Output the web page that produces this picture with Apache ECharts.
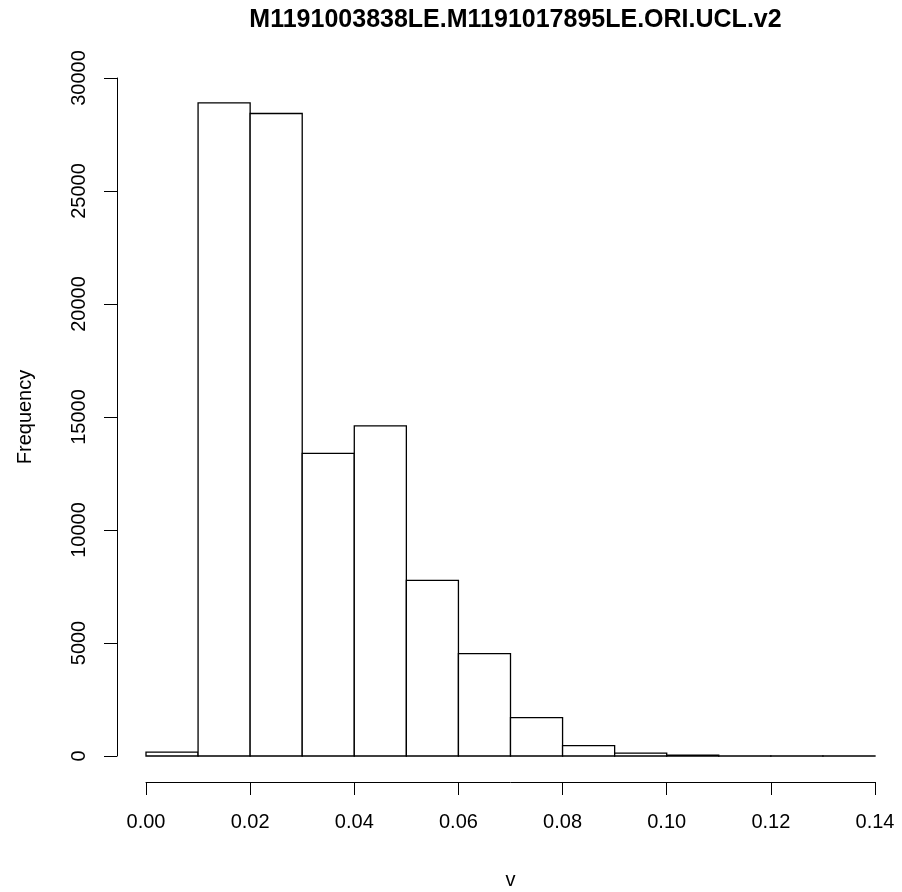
<!DOCTYPE html>
<html>
<head>
<meta charset="utf-8">
<script src="https://cdn.jsdelivr.net/npm/echarts@6/dist/echarts.min.js"></script>
<style>
    html, body { margin: 0; padding: 0; background: #ffffff; }
    #main { width: 902px; height: 892px; }
</style>
</head>
<body>
<div id="main"></div>
<script>
// histogram bins (left / right edges) and their counts
var binStart = [0.00, 0.01, 0.02, 0.03, 0.04, 0.05, 0.06, 0.07, 0.08, 0.09, 0.10, 0.11, 0.12, 0.13];
var binEnd = [0.01, 0.02, 0.03, 0.04, 0.05, 0.06, 0.07, 0.08, 0.09, 0.10, 0.11, 0.12, 0.13, 0.14];
var counts = [170, 28900, 28430, 13390, 14610, 7770, 4530, 1700, 455, 125, 40, 8, 3, 1];
var xTicks = [0.00, 0.02, 0.04, 0.06, 0.08, 0.10, 0.12, 0.14];
var yTicks = [0, 5000, 10000, 15000, 20000, 25000, 30000];

var font = "'Liberation Sans', Arial, Helvetica, sans-serif";

var datas = [];
for (var i = 0; i < counts.length; i++) {
    datas.push([binStart[i], binEnd[i], counts[i]]);
}

var chart = echarts.init(document.getElementById("main"));

var option = {
    backgroundColor: "#ffffff",
    animation: false,
    title: {
        text: "M1191003838LE.M1191017895LE.ORI.UCL.v2",
        left: 510.5,
        textAlign: "center",
        top: 3,
        textStyle: {
            fontFamily: font,
            fontSize: 25,
            fontWeight: "bold",
            color: "#000"
        }
    },
    grid: {
        left: 146,
        right: 27,
        top: 78,
        bottom: 136,
        containLabel: false,
        outerBoundsMode: "none"
    },
    xAxis: {
        type: "value",
        min: xTicks[0],
        max: xTicks[xTicks.length - 1],
        interval: 0.02,
        offset: 26,
        name: "v",
        nameLocation: "middle",
        nameGap: 88,
        nameTextStyle: { fontFamily: font, fontSize: 20, color: "#000" },
        splitLine: { show: false },
        axisLine: { show: true, onZero: false, lineStyle: { color: "#000", width: 1 } },
        axisTick: { show: true, length: 13, lineStyle: { color: "#000" } },
        axisLabel: {
            margin: 30,
            fontFamily: font,
            fontSize: 20,
            color: "#000",
            formatter: function (v) { return v.toFixed(2); }
        }
    },
    yAxis: {
        type: "value",
        min: yTicks[0],
        max: yTicks[yTicks.length - 1],
        interval: 5000,
        offset: 29,
        name: "Frequency",
        nameLocation: "middle",
        nameRotate: 90,
        nameGap: 82,
        nameTextStyle: { fontFamily: font, fontSize: 20, color: "#000" },
        splitLine: { show: false },
        axisLine: { show: true, onZero: false, lineStyle: { color: "#000", width: 1 } },
        axisTick: { show: true, length: 13, lineStyle: { color: "#000" } },
        axisLabel: {
            rotate: 90,
            margin: 28,
            fontFamily: font,
            fontSize: 20,
            color: "#000",
            formatter: function (v) { return String(v); }
        }
    },
    series: [
        {
            type: "custom",
            data: datas,
            encode: { x: [0, 1], y: 2 },
            renderItem: function (params, api) {
                var p0 = api.coord([api.value(0), api.value(2)]);
                var p1 = api.coord([api.value(1), 0]);
                return {
                    type: "rect",
                    shape: {
                        x: p0[0],
                        y: p0[1],
                        width: p1[0] - p0[0],
                        height: p1[1] - p0[1]
                    },
                    style: {
                        fill: "#ffffff",
                        stroke: "#000000",
                        lineWidth: 1.3
                    }
                };
            }
        }
    ]
};
option && chart.setOption(option);
</script>
</body>
</html>
